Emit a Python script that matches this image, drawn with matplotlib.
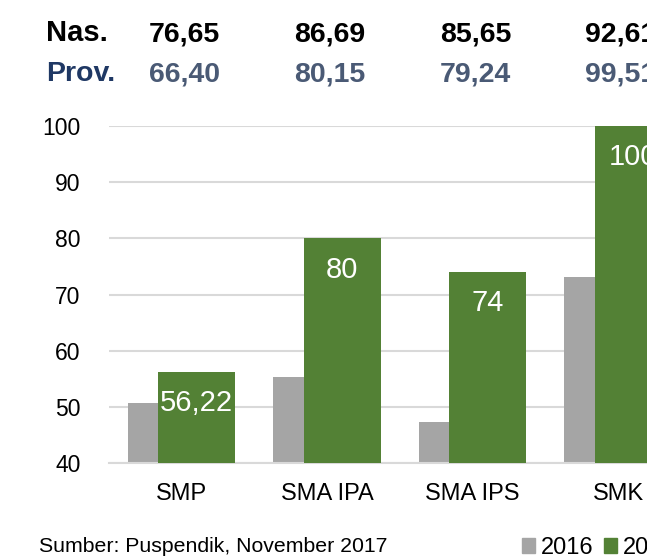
import matplotlib.pyplot as plt
import matplotlib.patches as mpatches
from matplotlib.transforms import blended_transform_factory

plt.rcParams['font.family'] = ['Liberation Sans', 'DejaVu Sans']

# data
categories = ["SMP", "SMA IPA", "SMA IPS", "SMK"]
years = ["2016", "2017"]
vals_2016 = [50.8, 55.3, 47.3, 73.2]
vals_2017 = [56.22, 80, 74, 100]
labels_2017 = ["56,22", "80", "74", "100"]
nas_scores = ["76,65", "86,69", "85,65", "92,61"]
prov_scores = ["66,40", "80,15", "79,24", "99,51"]

gray = "#A5A5A5"
green = "#538135"

fig = plt.figure(figsize=(6.47, 5.56), dpi=100)
ax = fig.add_axes([108.5 / 647, 1 - 463.3 / 556, 582.4 / 647, (463.3 - 125.8) / 556])

x = list(range(len(categories)))
w = 0.527
off = 0.105
ax.bar([i - off for i in x], vals_2016, width=w, color=gray, zorder=2)
bars = ax.bar([i + off for i in x], vals_2017, width=w, color=green, zorder=3)

for b, lab in zip(bars, labels_2017):
    ax.annotate(lab, (b.get_x() + b.get_width() / 2, b.get_height()),
                xytext=(0, -22.5), textcoords="offset points",
                ha="center", va="center", color="white", fontsize=21, zorder=4)

ax.set_xlim(-0.5, 3.5)
ax.set_ylim(40, 100)
ax.set_yticks(range(40, 101, 10))
ax.set_xticks(x)
ax.set_xticklabels(categories)
ax.tick_params(axis="y", length=0, pad=20, labelsize=16.5)
ax.tick_params(axis="x", length=0, pad=14, labelsize=17)
ax.yaxis.grid(True, color="#D9D9D9", linewidth=1.5, zorder=0)
ax.set_axisbelow(True)
for s in ["top", "right", "left"]:
    ax.spines[s].set_visible(False)
ax.spines["bottom"].set_color("#D9D9D9")
ax.spines["bottom"].set_linewidth(1.5)

# national / provincial averages above the chart
tr = blended_transform_factory(ax.transData, fig.transFigure)
fig.text(46 / 647, 1 - 41 / 556, "Nas.", fontsize=21, fontweight="bold",
         color="black", ha="left", va="baseline")
fig.text(46 / 647, 1 - 81 / 556, "Prov.", fontsize=20.5, fontweight="bold",
         color="#1F3864", ha="left", va="baseline")
for i in x:
    ax.text(i + 0.02, 1 - 41 / 556, nas_scores[i], transform=tr, fontsize=20.5,
            fontweight="bold", color="black", ha="center", va="baseline", clip_on=False)
    ax.text(i + 0.02, 1 - 81 / 556, prov_scores[i], transform=tr, fontsize=20.5,
            fontweight="bold", color="#4A5A75", ha="center", va="baseline", clip_on=False)

fig.text(39 / 647, 1 - 552 / 556, "Sumber: Puspendik, November 2017", fontsize=15.3,
         color="black", ha="left", va="baseline")

handles = [mpatches.Patch(color=gray), mpatches.Patch(color=green)]
fig.legend(handles, years, loc="lower left", bbox_to_anchor=(513 / 647, -0.022),
           ncol=2, frameon=False, fontsize=17, handlelength=0.55, handleheight=0.55,
           handletextpad=0.25, columnspacing=0.42, borderaxespad=0)

fig.savefig("out.png", dpi=100)
